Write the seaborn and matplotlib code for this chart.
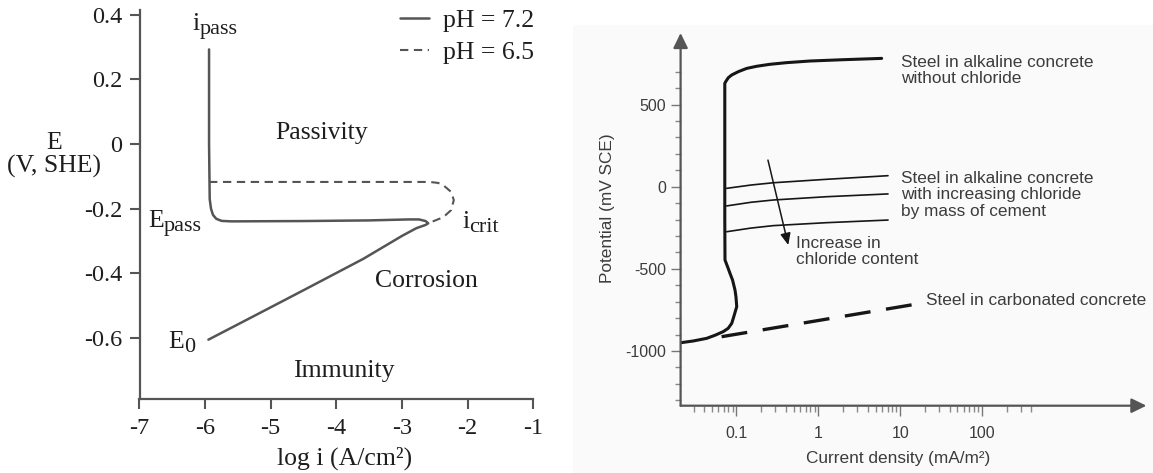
import matplotlib
matplotlib.use("Agg")
import matplotlib.pyplot as plt
import seaborn as sns
import pandas as pd
from matplotlib.patches import Rectangle

# ---------------- Left panel data: E (V, SHE) vs log i ----------------
ph72_logi = [-5.94, -5.94, -5.93, -5.91, -5.88, -5.83, -5.75, -5.60, -4.50, -3.50,
             -2.90, -2.74, -2.64, -2.60, -2.64, -2.78, -3.00, -3.59, -4.50, -5.20, -5.95]
ph72_E = [0.293, 0.0, -0.17, -0.20, -0.219, -0.231, -0.2375, -0.239, -0.238, -0.236,
          -0.233, -0.233, -0.238, -0.245, -0.250, -0.260, -0.284, -0.355, -0.452, -0.526, -0.605]
ph65_logi = [-5.94, -2.58, -2.45, -2.37, -2.25, -2.21, -2.25, -2.37, -2.60]
ph65_E = [-0.117, -0.117, -0.120, -0.127, -0.148, -0.173, -0.204, -0.226, -0.245]
legend_labels = ["pH = 7.2", "pH = 6.5"]
left_xticks = [-7, -6, -5, -4, -3, -2, -1]
left_xtick_labels = ["-7", "-6", "-5", "-4", "-3", "-2", "-1"]
left_yticks = [0.4, 0.2, 0.0, -0.2, -0.4, -0.6]
left_ytick_labels = ["0.4", "0.2", "0", "-0.2", "-0.4", "-0.6"]

# ---------------- Right panel data: potential (mV SCE) vs current density ----------------
main_i = [0.0207, 0.0298, 0.0434, 0.0550, 0.0692, 0.0794, 0.0877, 0.093, 0.101, 0.0988,
          0.0962, 0.0898, 0.0835, 0.0794, 0.0726, 0.0722, 0.0722, 0.074, 0.0796, 0.0877,
          0.1054, 0.1336, 0.177, 0.257, 0.41, 0.79, 2.02, 5.94]
main_E = [-950, -939, -923, -904, -882, -862, -832, -791, -730, -669,
          -629, -568, -527, -497, -446, -200, 629, 639, 663, 680,
          700, 720, 733, 745, 755, 765, 773, 781]
chl_i = [0.0762, 0.15, 0.282, 1.26, 7.1]
chl_low_E = [-10, 10, 24, 45, 67]
chl_mid_E = [-117, -95, -81, -61, -44]
chl_high_E = [-274, -252, -237, -219, -203]
carb_i = [0.066, 15.1]
carb_E = [-913, -716]
arrow_from = (0.243, 162)
arrow_to = (0.43, -355)
right_xticks = [0.1, 1, 10, 100]
right_xtick_labels = ["0.1", "1", "10", "100"]
right_xminor = [0.03, 0.04, 0.05, 0.06, 0.07, 0.08, 0.09,
                0.2, 0.3, 0.4, 0.5, 0.6, 0.7, 0.8, 0.9,
                2, 3, 4, 5, 6, 7, 8, 9,
                20, 30, 40, 50, 60, 70, 80, 90,
                200, 300, 400]
right_yticks = [500, 0, -500, -1000]
right_ytick_labels = ["500", "0", "-500", "-1000"]
right_yminor = [-1300, -1200, -1100, -900, -800, -700, -600, -400, -300, -200, -100,
                100, 200, 300, 400, 600, 700]

sns.set_style("white")
plt.rcParams["axes.unicode_minus"] = False
plt.rcParams["lines.scale_dashes"] = False

W, H = 1153, 473
fig = plt.figure(figsize=(W / 100, H / 100), dpi=100)
fig.patch.set_facecolor("white")
fig.patches.append(Rectangle((573 / W, 0), 1 - 573 / W, 1 - 25 / H, transform=fig.transFigure,
                             facecolor="#fafafa", edgecolor="none", zorder=-10))

def px_axes(l, r, t, b):
    return fig.add_axes([l / W, (H - b) / H, (r - l) / W, (b - t) / H])

# ======================= LEFT PANEL =======================
SERIF = "Liberation Serif"
GREY = "#555555"
TXT = "#1e1e1e"
ax1 = px_axes(139.5, 533.2, 10, 399.3)
ax1.set_facecolor("none")
df72 = pd.DataFrame({"logi": ph72_logi, "E": ph72_E})
df65 = pd.DataFrame({"logi": ph65_logi, "E": ph65_E})
sns.lineplot(data=df72, x="logi", y="E", ax=ax1, sort=False, estimator=None,
             color=GREY, lw=1.8, label=legend_labels[0])
sns.lineplot(data=df65, x="logi", y="E", ax=ax1, sort=False, estimator=None,
             color=GREY, lw=1.5, label=legend_labels[1])
ax1.lines[1].set_dashes([6, 4])
ax1.set_xlim(-7, -1)
ax1.set_ylim(-0.7895, 0.415)
for s in ["top", "right"]:
    ax1.spines[s].set_visible(False)
for s in ["left", "bottom"]:
    ax1.spines[s].set_color(GREY)
    ax1.spines[s].set_linewidth(1.6)
ax1.set_xticks(left_xticks)
ax1.set_xticklabels(left_xtick_labels, family=SERIF, fontsize=17.5, color=TXT)
ax1.set_yticks(left_yticks)
ax1.set_yticklabels(left_ytick_labels, family=SERIF, fontsize=17.5, color=TXT)
ax1.tick_params(axis="both", which="major", direction="out", length=7.5, width=1.5,
                color=GREY, left=True, bottom=True)
ax1.tick_params(axis="y", pad=5)
ax1.tick_params(axis="x", pad=6)
ax1.set_xlabel("log i (A/cm²)", family=SERIF, fontsize=18.5, color=TXT, va="center")
ax1.xaxis.set_label_coords(0.521, -0.151)
ax1.set_ylabel("E\n(V, SHE)", family=SERIF, fontsize=18.5, color=TXT, rotation=0,
               va="center", ha="center", linespacing=1.0)
ax1.yaxis.set_label_coords(-0.218, 0.6275)

leg = ax1.legend(loc="upper right", bbox_to_anchor=(534 / W, 1 - 9 / H),
                 bbox_transform=fig.transFigure, frameon=False, borderpad=0,
                 borderaxespad=0, handlelength=1.13, handletextpad=0.55,
                 labelspacing=0.35, prop={"family": SERIF, "size": 18.5})
for t in leg.get_texts():
    t.set_color(TXT)

def tx(ax, x, y, s, **kw):
    kw.setdefault("family", SERIF)
    kw.setdefault("fontsize", 18.5)
    kw.setdefault("color", TXT)
    return ax.text(x, y, s, **kw)

def sub_label(ax, x, y, main, sub):
    t = tx(ax, x, y, main, ha="left", va="baseline")
    ax.annotate(sub, xy=(1, 0), xycoords=t, xytext=(0, -4), textcoords="offset pixels",
                ha="left", va="bottom", family=SERIF, fontsize=16, color=TXT)

sub_label(ax1, -6.186, 0.353, "i", "pass")
sub_label(ax1, -6.87, -0.2555, "E", "pass")
sub_label(ax1, -2.078, -0.260, "i", "crit")
sub_label(ax1, -6.567, -0.632, "E", "0")
tx(ax1, -4.219, 0.016, "Passivity", ha="center", va="baseline")
tx(ax1, -2.622, -0.441, "Corrosion", ha="center", va="baseline")
tx(ax1, -3.886, -0.7196, "Immunity", ha="center", va="baseline")

# ======================= RIGHT PANEL =======================
SANS = "Liberation Sans"
RTXT = "#3c3c3c"
AXC = "#555555"
INK = "#161616"
ax2 = px_axes(680.6, 1146.4, 33, 405.7)
ax2.set_facecolor("none")
ax2.set_xscale("log")
dmain = pd.DataFrame({"i": main_i, "E": main_E})
sns.lineplot(data=dmain, x="i", y="E", ax=ax2, sort=False, estimator=None, color=INK, lw=2.2)
for ev in [chl_low_E, chl_mid_E, chl_high_E]:
    sns.lineplot(x=chl_i, y=ev, ax=ax2, sort=False, estimator=None, color=INK, lw=1.2)
sns.lineplot(x=carb_i, y=carb_E, ax=ax2, sort=False, estimator=None, color=INK, lw=2.4)
ax2.lines[-1].set_dashes([18.7, 11.3])
ax2.set_xlim(10 ** -1.681, 10 ** 4.006)
ax2.set_ylim(-1333, 935.5)
for s in ax2.spines.values():
    s.set_visible(False)
arrow_kw = dict(arrowstyle="-|>,head_length=0.45,head_width=0.22", color=AXC, lw=1.6,
                mutation_scale=20, shrinkA=0, shrinkB=0)
ax2.annotate("", xy=(1, 0), xytext=(0, 0), xycoords="axes fraction",
             textcoords="axes fraction", arrowprops=arrow_kw)
ax2.annotate("", xy=(0, 1), xytext=(0, 0), xycoords="axes fraction",
             textcoords="axes fraction", arrowprops=arrow_kw)
ax2.annotate("", xy=arrow_to, xytext=arrow_from,
             arrowprops=dict(arrowstyle="-|>,head_length=0.5,head_width=0.22", color=INK,
                             lw=1.1, mutation_scale=14, shrinkA=0, shrinkB=0))

ax2.set_xticks(right_xticks)
ax2.set_xticklabels(right_xtick_labels, family=SANS, fontsize=11.5, color=RTXT)
ax2.set_xticks(right_xminor, minor=True)
ax2.set_xticklabels([], minor=True)
ax2.set_yticks(right_yticks)
ax2.set_yticklabels(right_ytick_labels, family=SANS, fontsize=11.5, color=RTXT)
ax2.set_yticks(right_yminor, minor=True)
ax2.tick_params(axis="both", which="major", direction="out", length=7.5, width=1.0,
                color="#777777", left=True, bottom=True)
ax2.tick_params(axis="both", which="minor", direction="out", length=4.3, width=1.0,
                color="#888888", left=True, bottom=True)
ax2.tick_params(axis="y", pad=3)
ax2.tick_params(axis="x", pad=7)
ax2.set_xlabel("Current density (mA/m²)", family=SANS, fontsize=12.4, color=RTXT, va="center")
ax2.xaxis.set_label_coords(0.468, -0.141)
ax2.set_ylabel("Potential (mV SCE)", family=SANS, fontsize=12.4, color=RTXT, va="center")
ax2.yaxis.set_label_coords(-0.157, 0.530)

rkw = dict(family=SANS, fontsize=12.4, color=RTXT, ha="left", va="center", linespacing=1.1)
ax2.text(10.1, 707, "Steel in alkaline concrete\nwithout chloride", **rkw)
ax2.text(10.1, -50, "Steel in alkaline concrete\nwith increasing chloride\nby mass of cement", **rkw)
ax2.text(0.528, -396, "Increase in\nchloride content", **rkw)
ax2.text(20.9, -694, "Steel in carbonated concrete", **rkw)

fig.savefig("out.png", dpi=100)
